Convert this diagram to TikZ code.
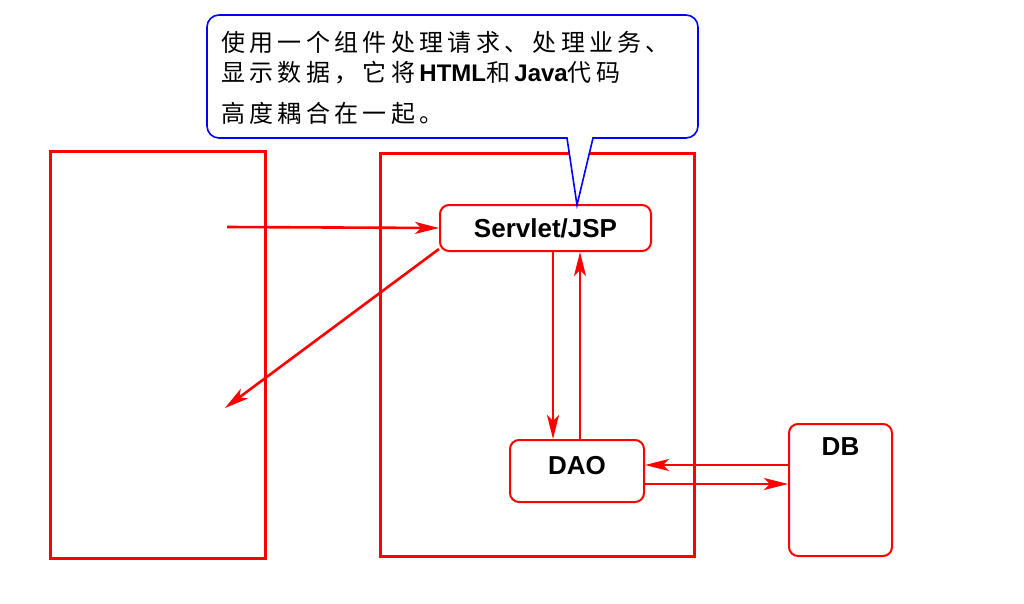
\documentclass[tikz,border=0pt]{standalone}
\usepackage{fontspec}
\setmainfont{Liberation Sans}
\newfontfamily\cjk[LetterSpace=18]{Noto Sans CJK SC}
\usetikzlibrary{positioning,arrows.meta}

\begin{document}
\begin{tikzpicture}[x=1pt,y=-1pt,
    frame/.style={draw=red,line width=3pt},
    comp/.style={draw=red,line width=2pt,rounded corners=9pt,font=\fontsize{26}{30}\selectfont\bfseries},
    arr/.style={red,line width=2.6pt,-{Stealth[length=24pt,width=12pt,inset=6pt]}},
    note/.style={anchor=west,inner sep=0pt,font=\fontsize{24}{28}\selectfont}]

    \fill[white] (0,0) rectangle (1024,604);
    \useasboundingbox (0,0) rectangle (1024,604);

    % browser and server frames
    \draw[frame] (50,152) rectangle (265,558);
    \draw[frame] (380,154) rectangle (694,556);

    % components
    \node[comp,minimum width=211pt,minimum height=46pt] (servlet) at (545.5,228) {Servlet/JSP};
    \node[comp,minimum width=134pt,minimum height=62pt,text depth=12pt] (dao) at (577,471) {DAO};
    \node[comp,minimum width=103pt,minimum height=132pt,text depth=86pt] (db) at (840.5,490) {DB};

    \coordinate (reqin) at (227,227);
    \coordinate (respout) at (225,408);

    % request / response
    \draw[arr] (reqin) -- (servlet.west);
    \draw[arr] ([yshift=3pt]servlet.south west) -- (respout);
    \draw[arr] ([xshift=7.5pt]servlet.south) -- ([xshift=7.5pt]servlet.south |- dao.north);
    \draw[arr] ([xshift=3pt]dao.north) -- ([xshift=3pt]dao.north |- servlet.south);
    \draw[arr] ([yshift=25pt]db.west) -- ([yshift=25pt]db.west -| dao.east);
    \draw[arr] ([yshift=-13pt]dao.east) -- ([yshift=-13pt]dao.east -| db.west);

    % callout
    \coordinate (tip) at (577,205);
    \draw[blue,line width=1.6pt,fill=white] (567,138) {[rounded corners=12pt] -- (207,138) -- (207,15)
        -- (698,15) -- (698,138)} -- (593,138) -- (tip) -- cycle;
    \node[note] (line1) at (221,42) {\cjk 使用一个组件处理请求、处理业务、};
    \node[note] (line2) at (221,73) {\cjk 显示数据，它将\textbf{\rmfamily HTML}和\textbf{\rmfamily Java}代码};
    \node[note] (line3) at (221,113) {\cjk 高度耦合在一起。};

\end{tikzpicture}
\end{document}
